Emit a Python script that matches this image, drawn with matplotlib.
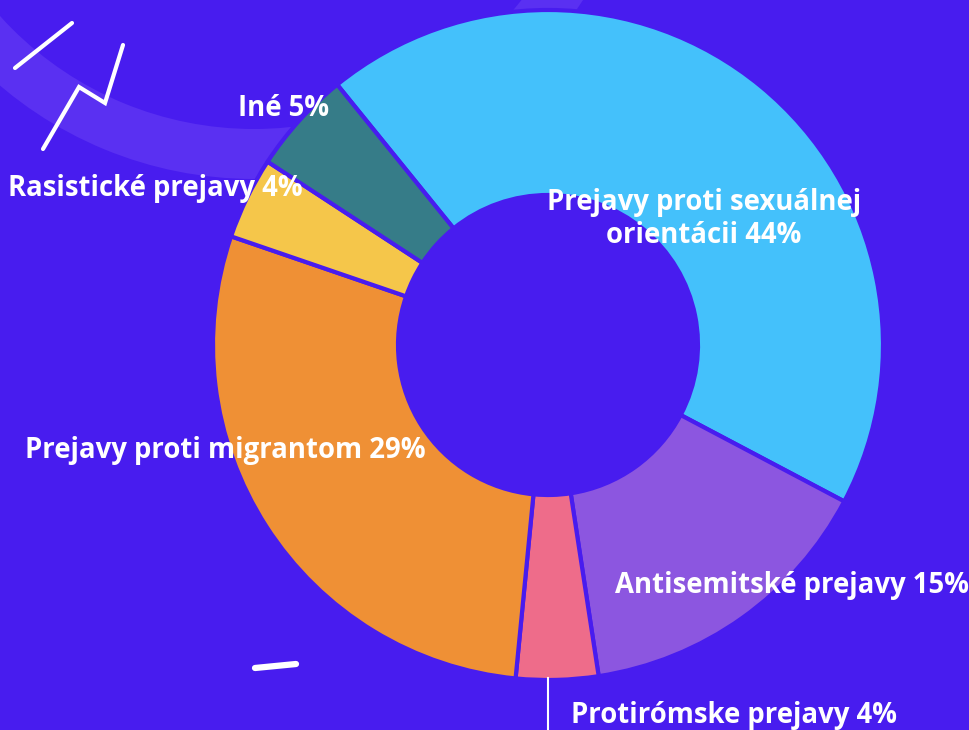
import matplotlib.pyplot as plt
from matplotlib.patches import Wedge

# data
categories = ['Prejavy proti sexuálnej\norientácii', 'Antisemitské prejavy', 'Protirómske prejavy',
              'Prejavy proti migrantom', 'Rasistické prejavy', 'Iné']
values = [44, 15, 4, 29, 4, 5]
colors = ['#44c1fb', '#8c56e0', '#ee6c8a', '#ef9035', '#f5c64a', '#367c88']

bg = '#481cef'
W, H = 970, 730

fig = plt.figure(figsize=(W / 100, H / 100), dpi=100, facecolor=bg)
ax = fig.add_axes([0, 0, 1, 1])
ax.set_facecolor(bg)

# light arc in the background (top left)
ax.add_patch(Wedge((254, H + 213), 392, 0, 360, width=50, color='#5a30f2', lw=0, zorder=0))

# donut
ax.pie(values, colors=colors, startangle=129, counterclock=False,
       center=(548, H - 345), radius=335, frame=True,
       wedgeprops=dict(width=185, edgecolor=bg, linewidth=3, joinstyle='round'))

# decorative strokes
ax.plot([15, 72], [H - 68, H - 23], color='white', lw=3, solid_capstyle='round', zorder=5)
ax.plot([43, 79, 105, 123], [H - 149, H - 87, H - 103, H - 45], color='white', lw=3,
        solid_capstyle='round', solid_joinstyle='miter', zorder=5)
ax.plot([255, 296], [H - 668, H - 664], color='white', lw=4.5, solid_capstyle='round', zorder=5)

# leader line for the small pink slice
ax.plot([548, 548], [H - 678, 0], color='white', lw=1.5, zorder=5)

font = dict(color='white', fontweight='bold', fontsize=19.8, family='Open Sans', zorder=6)
ax.text(329, H - 116, f'{categories[5]} {values[5]}%', ha='right', va='baseline', **font)
ax.text(8, H - 196, f'{categories[4]} {values[4]}%', ha='left', va='baseline', **font)
ax.text(704, H - 243, f'{categories[0]} {values[0]}%', ha='center', va='baseline',
        linespacing=1.18, **font)
ax.text(25, H - 458, f'{categories[3]} {values[3]}%', ha='left', va='baseline', **font)
ax.text(615, H - 593, f'{categories[1]} {values[1]}%', ha='left', va='baseline', **font)
ax.text(571, H - 723, f'{categories[2]} {values[2]}%', ha='left', va='baseline', **font)

ax.set_xlim(0, W)
ax.set_ylim(0, H)
ax.set_aspect('equal')
ax.axis('off')

plt.savefig('out.png', dpi=100, facecolor=bg)
